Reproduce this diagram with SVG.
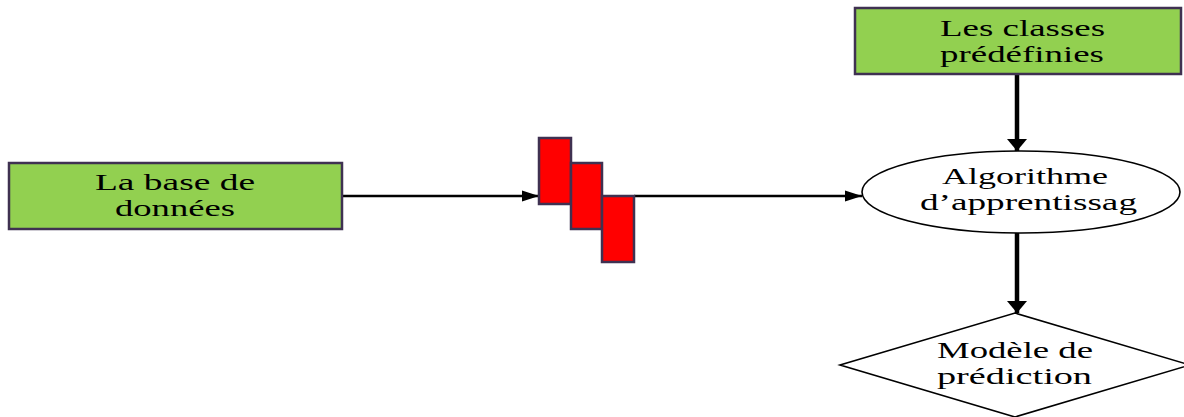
<svg xmlns="http://www.w3.org/2000/svg" width="1184" height="417" viewBox="0 0 1184 417">
<style>
.box{fill:#92d050;stroke:#3f3151;stroke-width:2.5}
.red{fill:#ff0000;stroke:#3f3151;stroke-width:2.5}
.shape{fill:#ffffff;stroke:#000000;stroke-width:1.6}
.t{font-family:"Liberation Serif","Times New Roman",serif;font-size:24px;fill:#000000}
.h{stroke:#000000;stroke-width:2.5;fill:none}
.v{stroke:#000000;stroke-width:4.5;fill:none}
</style>
<defs>
<marker id="arrowH" markerUnits="userSpaceOnUse" markerWidth="18" markerHeight="12" refX="17" refY="6" orient="auto" viewBox="0 0 18 12">
<path d="M0,0.5 L17,6 L0,11.5 Z" fill="#000000"/>
</marker>
<marker id="arrowV" markerUnits="userSpaceOnUse" markerWidth="13" markerHeight="21" refX="12" refY="10" orient="auto" viewBox="0 0 13 21">
<path d="M0,0 L12,10 L0,20 Z" fill="#000000"/>
</marker>
</defs>
<g id="connectors">
<line class="h" x1="342" y1="196" x2="539" y2="196" marker-end="url(#arrowH)"/>
<line class="h" x1="634" y1="196" x2="862" y2="196" marker-end="url(#arrowH)"/>
<line class="v" x1="1017" y1="74" x2="1017" y2="151" marker-end="url(#arrowV)"/>
<line class="v" x1="1017" y1="233" x2="1017" y2="313" marker-end="url(#arrowV)"/>
</g>
<g id="base">
<rect class="box" x="9" y="163" width="333" height="66"/>
<text class="t" x="95" y="190" textLength="160" lengthAdjust="spacingAndGlyphs">La base de</text>
<text class="t" x="115" y="216" textLength="120" lengthAdjust="spacingAndGlyphs">données</text>
</g>
<g id="filtre">
<rect class="red" x="539" y="138" width="32" height="66"/>
<rect class="red" x="571" y="163" width="31" height="66"/>
<rect class="red" x="602" y="196" width="32" height="66"/>
</g>
<g id="classes">
<rect class="box" x="855" y="8" width="326" height="66"/>
<text class="t" x="940" y="36" textLength="165" lengthAdjust="spacingAndGlyphs">Les classes</text>
<text class="t" x="940" y="62" textLength="164" lengthAdjust="spacingAndGlyphs">prédéfinies</text>
</g>
<g id="algorithme">
<ellipse class="shape" cx="1021" cy="192" rx="159" ry="41"/>
<text class="t" x="942" y="184" textLength="166" lengthAdjust="spacingAndGlyphs">Algorithme</text>
<text class="t" x="920" y="210" textLength="217" lengthAdjust="spacingAndGlyphs">d’apprentissag</text>
</g>
<g id="modele">
<polygon class="shape" points="1015,313 1190,365 1015,417 840,365"/>
<text class="t" x="937" y="358" textLength="156" lengthAdjust="spacingAndGlyphs">Modèle de</text>
<text class="t" x="937" y="384" textLength="155" lengthAdjust="spacingAndGlyphs">prédiction</text>
</g>
</svg>
